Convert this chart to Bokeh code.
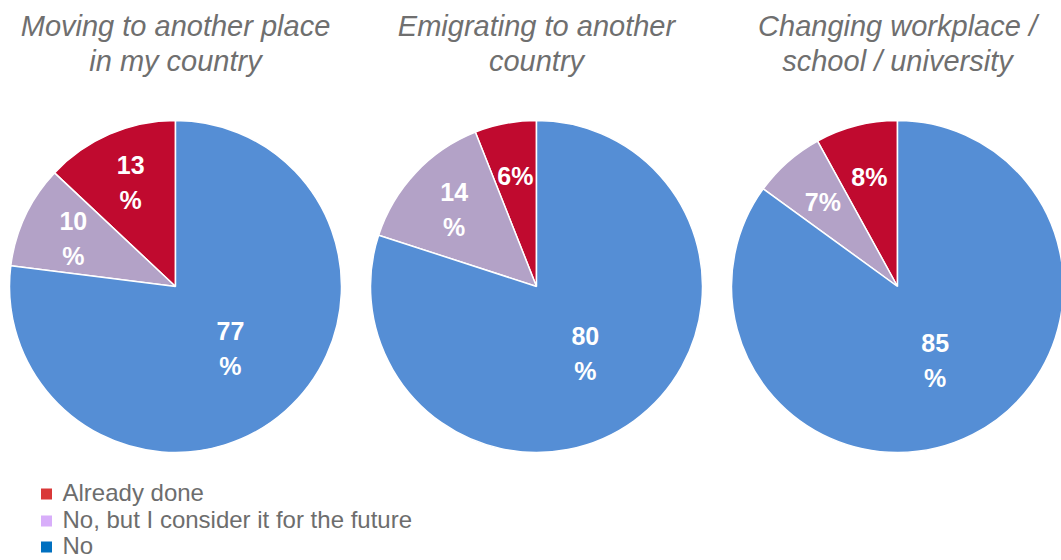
import math
from bokeh.plotting import figure
from bokeh.models import Range1d, ColumnDataSource
from bokeh.core.properties import value
from bokeh.embed import file_html
from bokeh.resources import INLINE

# ---------------- data ----------------
titles = ["Moving to another place\nin my country",
          "Emigrating to another\ncountry",
          "Changing workplace /\nschool / university"]
categories = ["Already done", "No, but I consider it for the future", "No"]
already_done = [13, 6, 8]
consider_future = [10, 14, 7]
no_answer = [77, 80, 85]

# ---------------- style ----------------
slice_colors = ["#C00A2F", "#B3A2C7", "#558ED5"]
legend_colors = ["#D93838", "#D8AEFA", "#0070C0"]
FONT = "Liberation Sans"
W, H = 1061, 560
R = 166
centers_x = [175, 536, 897]
center_y = -286

p = figure(width=W, height=H, x_range=Range1d(0, W), y_range=Range1d(-H, 0),
           output_backend="svg", toolbar_location=None,
           x_axis_location=None, y_axis_location=None, min_border=0)
p.grid.visible = False
p.outline_line_color = None
p.background_fill_color = "white"
p.border_fill_color = "white"

series = [already_done, consider_future, no_answer]

wx, wy, ws, we, wc = [], [], [], [], []
lx, ly, lt = [], [], []
for i in range(len(titles)):
    vals = [s[i] for s in series]
    total = float(sum(vals))
    start = math.pi / 2
    for k, v in enumerate(vals):
        span = 2 * math.pi * v / total
        end = start + span
        wx.append(centers_x[i]); wy.append(center_y)
        ws.append(start); we.append(end); wc.append(slice_colors[k])
        mid = (start + end) / 2
        frac = 0.5 if v / total > 0.5 else 0.68
        lx.append(centers_x[i] + frac * R * math.cos(mid))
        ly.append(center_y + frac * R * math.sin(mid))
        lt.append(f"{v}\n%" if v >= 10 else f"{v}%")
        start = end

p.wedge(x="x", y="y", radius=R, start_angle="s", end_angle="e", fill_color="c",
        line_color="white", line_width=1.5,
        source=ColumnDataSource(dict(x=wx, y=wy, s=ws, e=we, c=wc)))

p.text(x=lx, y=ly, text=lt, text_font=value(FONT), text_font_style="bold",
       text_font_size=value("25px"), text_color="white", text_align="center",
       text_baseline="middle", text_line_height=1.25)

# titles
p.text(x=centers_x, y=[-43] * 3, text=titles, text_font=value(FONT),
       text_font_style="italic", text_font_size=value("29px"), text_color="#6f6f6f",
       text_align="center", text_baseline="middle", text_line_height=1.12)

# legend
leg_y = [-492, -519, -545]
p.scatter(x=[46] * 3, y=[y - 1.5 for y in leg_y], marker="square", size=11,
          fill_color=legend_colors, line_color=None)
p.text(x=[62] * 3, y=leg_y, text=categories, text_font=value(FONT),
       text_font_size=value("24px"), text_color="#6d6d6d", text_align="left",
       text_baseline="middle")

open("out.html", "w").write(file_html(p, INLINE))
